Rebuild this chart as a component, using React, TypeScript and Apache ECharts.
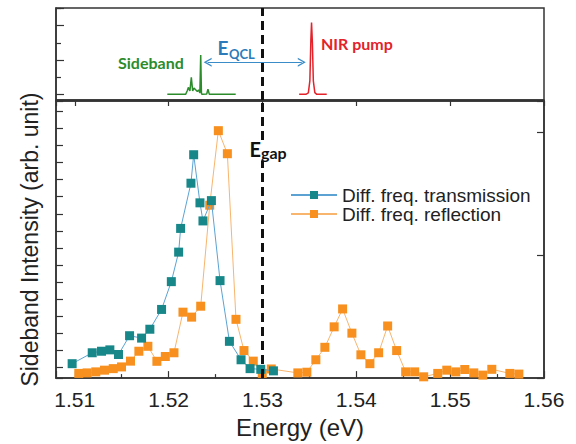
import React, { useEffect, useRef } from "react";
import * as echarts from "echarts";

// Main panel: difference-frequency transmission (teal)
const transEnergy = [1.50972, 1.51186, 1.51285, 1.51374, 1.51466, 1.51584, 1.51712, 1.518, 1.51925, 1.52029, 1.52107, 1.52128, 1.52238, 1.52267, 1.52334, 1.52366, 1.52456, 1.52548, 1.52648, 1.52772, 1.52868, 1.52982, 1.53117];
const transIntensity = [1.21, 1.85, 1.94, 2.02, 1.75, 2.85, 2.71, 3.23, 4.39, 6.02, 7.75, 9.14, 11.79, 13.46, 10.64, 9.58, 10.77, 6.08, 2.52, 1.44, 0.92, 0.88, 0.79];

// Main panel: difference-frequency reflection (orange)
const reflEnergy = [1.51043, 1.51132, 1.51224, 1.51317, 1.5141, 1.51498, 1.51594, 1.51683, 1.51779, 1.51875, 1.51965, 1.52057, 1.52153, 1.52245, 1.52342, 1.52438, 1.5253, 1.52626, 1.52718, 1.52803, 1.52902, 1.52998, 1.53094, 1.53377, 1.53473, 1.53569, 1.53665, 1.53764, 1.53854, 1.53953, 1.54049, 1.54145, 1.54238, 1.54334, 1.5443, 1.54526, 1.54622, 1.54718, 1.54868, 1.54964, 1.5506, 1.55156, 1.55252, 1.55348, 1.55444, 1.55636, 1.55732];
const reflIntensity = [0.64, 0.67, 0.73, 0.83, 0.92, 1.02, 1.36, 1.94, 2.23, 1.35, 1.63, 1.85, 4.23, 3.94, 4.58, 10.5, 14.87, 13.52, 3.81, 1.98, 1.36, 0.64, 0.9, 0.67, 0.71, 1.44, 2.17, 3.37, 4.42, 3.0, 1.73, 1.21, 1.85, 3.42, 1.98, 0.73, 0.73, 0.44, 0.64, 0.83, 0.73, 0.87, 0.67, 0.54, 0.88, 0.64, 0.6];

// Top panel: sideband spectrum (green) and NIR pump (red)
const sidebandEnergy = [1.51986, 1.52181, 1.522, 1.5221, 1.52227, 1.52242, 1.52256, 1.5227, 1.52288, 1.52306, 1.5232, 1.52333, 1.52342, 1.5235, 1.52358, 1.52406, 1.52419, 1.52434, 1.52715];
const sidebandIntensity = [0.01, 0.01, 0.12, 0.21, 0.11, 0.5, 0.11, 0.19, 0.14, 0.09, 0.14, 0.05, 1.15, 0.03, 0.01, 0.02, 0.16, 0.01, 0.01];
const pumpEnergy = [1.53391, 1.53462, 1.53489, 1.53505, 1.53516, 1.53523, 1.53532, 1.53542, 1.53558, 1.53579, 1.53685];
const pumpIntensity = [0.01, 0.01, 0.05, 0.4, 1.6, 2.09, 1.5, 0.4, 0.06, 0.01, 0.01];

// Annotations
const gapEnergy = 1.53;
const qclArrowStart = [1.52416, 0.94];
const qclArrowEnd = [1.53419, 0.94];
const legendNames = ["Diff. freq. transmission", "Diff. freq. reflection"];

const xMin = 1.508;
const xMax = 1.56;

const FRAME = "#333";
const AXIS_FONT = "'Liberation Sans', Arial, sans-serif";
const ANNO_FONT = "Lato, 'Open Sans', sans-serif";

const zip = (a: number[], b: number[]) => a.map((v, i) => [v, b[i]]);

const chevron = "path://M0,10L5,0L10,10L8.4,10L5,3.2L1.6,10Z";

export default function App() {
  const ref = useRef<HTMLDivElement>(null);

  useEffect(() => {
    if (!ref.current) return;
    const chart = echarts.init(ref.current, null, { renderer: "svg" });

    const dashedLine = {
      silent: true,
      symbol: ["none", "none"],
      label: { show: false },
      lineStyle: { color: "#111", width: 3, type: [9, 5] },
      data: [{ xAxis: gapEnergy }],
    };

    const line = { show: true, onZero: false, lineStyle: { color: FRAME, width: 1.5 } };
    const tickStyle = { color: FRAME, width: 1.2 };

    const option: any = {
      animation: false,
      backgroundColor: "#fff",
      grid: [
        { left: 56, right: 32, top: 8, height: 92, show: true, borderColor: FRAME, borderWidth: 1.5, backgroundColor: "transparent" },
        { left: 56, right: 32, top: 101, bottom: 61, show: true, borderColor: FRAME, borderWidth: 1.5, backgroundColor: "transparent" },
      ],
      xAxis: [
        {
          type: "value",
          gridIndex: 1,
          position: "bottom",
          min: xMin,
          max: xMax,
          splitNumber: 5,
          axisLine: line,
          axisTick: { show: true, inside: true, length: 7, lineStyle: tickStyle },
          minorTick: { show: true, splitNumber: 2, length: 4, lineStyle: tickStyle },
          axisLabel: {
            show: true,
            showMinLabel: false,
            margin: 11,
            fontSize: 21,
            fontFamily: AXIS_FONT,
            color: "#222",
            formatter: (v: number) => v.toFixed(2),
          },
          splitLine: { show: false },
          name: "Energy (eV)",
          nameLocation: "middle",
          nameGap: 36,
          nameTextStyle: { fontSize: 24, fontFamily: AXIS_FONT, color: "#222" },
        },
        {
          type: "value",
          gridIndex: 1,
          position: "top",
          min: xMin,
          max: xMax,
          splitNumber: 5,
          axisLine: line,
          axisTick: { show: true, inside: true, length: 5, lineStyle: tickStyle },
          axisLabel: { show: false },
          splitLine: { show: false },
        },
        {
          type: "value",
          gridIndex: 0,
          position: "bottom",
          min: xMin,
          max: xMax,
          axisLine: line,
          axisTick: { show: false },
          axisLabel: { show: false },
          splitLine: { show: false },
        },
      ],
      yAxis: [
        {
          type: "value",
          gridIndex: 1,
          position: "left",
          min: 0.365,
          max: 16.61,
          splitNumber: 16,
          axisLine: line,
          axisTick: { show: true, inside: true, length: 7, lineStyle: tickStyle },
          axisLabel: { show: false },
          splitLine: { show: false },
          name: "Sideband Intensity (arb. unit)",
          nameLocation: "middle",
          nameGap: 15,
          nameTextStyle: { fontSize: 23, fontFamily: AXIS_FONT, color: "#222" },
        },
        {
          type: "value",
          gridIndex: 1,
          position: "right",
          min: 0,
          max: 2.252,
          interval: 1,
          axisLine: line,
          axisTick: { show: true, inside: true, length: 7, lineStyle: tickStyle },
          axisLabel: { show: false },
          splitLine: { show: false },
        },
        {
          type: "value",
          gridIndex: 0,
          position: "left",
          min: -0.154,
          max: 2.51,
          splitNumber: 3,
          axisLine: line,
          axisTick: { show: true, inside: true, length: 8, lineStyle: tickStyle },
          minorTick: { show: true, splitNumber: 2, length: 5, lineStyle: tickStyle },
          axisLabel: { show: false },
          splitLine: { show: false },
        },
      ],
      legend: {
        orient: "vertical",
        left: 290,
        top: 185.5,
        padding: 0,
        itemGap: 0,
        itemWidth: 46,
        itemHeight: 10,
        data: legendNames,
        textStyle: { fontSize: 19, fontFamily: AXIS_FONT, color: "#222" },
      },
      series: [
        {
          name: legendNames[0],
          type: "line",
          xAxisIndex: 0,
          yAxisIndex: 0,
          data: zip(transEnergy, transIntensity),
          symbol: "rect",
          symbolSize: 9,
          itemStyle: { color: "#17878a" },
          lineStyle: { color: "#5ca3d3", width: 1 },
          markLine: dashedLine,
          z: 3,
        },
        {
          name: legendNames[1],
          type: "line",
          xAxisIndex: 0,
          yAxisIndex: 0,
          data: zip(reflEnergy, reflIntensity),
          symbol: "rect",
          symbolSize: 9,
          itemStyle: { color: "#f7901e" },
          lineStyle: { color: "#f7b56e", width: 1 },
          z: 2,
        },
        {
          name: "Sideband",
          type: "line",
          xAxisIndex: 2,
          yAxisIndex: 2,
          data: zip(sidebandEnergy, sidebandIntensity),
          symbol: "none",
          lineStyle: { color: "#2c8c2c", width: 1.5 },
          markLine: {
            ...dashedLine,
            data: [
              { xAxis: gapEnergy },
              [
                { coord: qclArrowStart, symbol: chevron, symbolSize: [9, 8], lineStyle: { color: "#3a8cc8", width: 1.2, type: "solid" } },
                { coord: qclArrowEnd, symbol: chevron, symbolSize: [9, 8] },
              ],
            ],
          },
        },
        {
          name: "NIR pump",
          type: "line",
          xAxisIndex: 2,
          yAxisIndex: 2,
          data: zip(pumpEnergy, pumpIntensity),
          symbol: "none",
          lineStyle: { color: "#e4222a", width: 1.5 },
        },
      ],
      graphic: [
        { type: "text", x: 118, y: 62.5, style: { text: "Sideband", fill: "#2c8c2c", fontSize: 16, fontWeight: "bold", fontFamily: ANNO_FONT, verticalAlign: "middle" } },
        { type: "text", x: 321, y: 43.5, style: { text: "NIR pump", fill: "#e4222a", fontSize: 16, fontWeight: "bold", fontFamily: ANNO_FONT, verticalAlign: "middle" } },
        { type: "text", x: 217.5, y: 47, style: { text: "E", fill: "#2b7bba", fontSize: 19, fontWeight: "bold", fontFamily: ANNO_FONT, verticalAlign: "middle" } },
        { type: "text", x: 229, y: 53.5, style: { text: "QCL", fill: "#2b7bba", fontSize: 13, fontWeight: "bold", fontFamily: ANNO_FONT, verticalAlign: "middle" } },
        { type: "text", x: 249.5, y: 148.5, z: 100, style: { text: "E", fill: "#111", fontSize: 20, fontWeight: "bold", fontFamily: ANNO_FONT, verticalAlign: "middle", backgroundColor: "#fff" } },
        { type: "text", x: 261, y: 152.5, z: 100, style: { text: "gap", fill: "#111", fontSize: 16, fontWeight: "bold", fontFamily: ANNO_FONT, verticalAlign: "middle", backgroundColor: "#fff" } },
      ],
    };

    chart.setOption(option);
    return () => chart.dispose();
  }, []);

  return (
    <div
      ref={ref}
      style={{ position: "fixed", left: 0, top: 0, width: 576, height: 444, background: "#fff" }}
    />
  );
}
